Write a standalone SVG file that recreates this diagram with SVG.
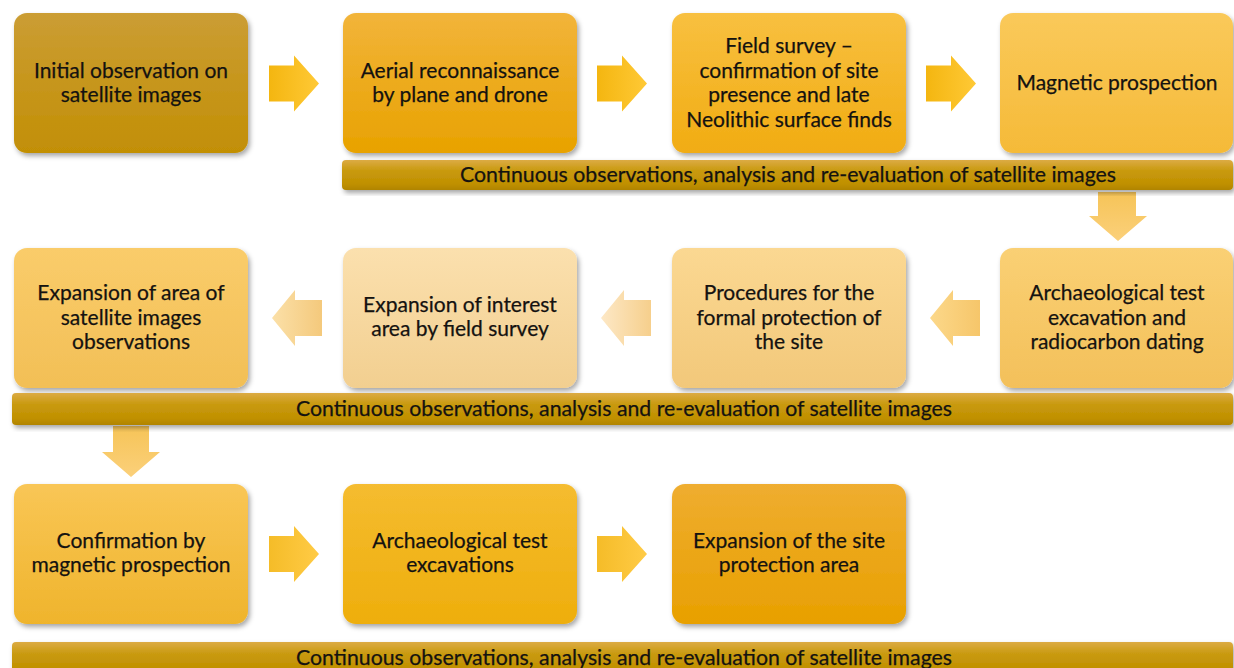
<svg xmlns="http://www.w3.org/2000/svg" width="1234" height="668" viewBox="0 0 1234 668">
<style>
.t{font-family:Lato,"Open Sans","Liberation Sans",sans-serif;font-size:21px;fill:#141210;stroke:#141210;stroke-width:0.25;text-anchor:middle}
.box{filter:url(#sh)}
</style>
<defs>
<filter id="sh" x="-10%" y="-10%" width="125%" height="130%">
<feDropShadow dx="2" dy="3" stdDeviation="2.5" flood-color="#000" flood-opacity="0.35"/>
</filter>
<linearGradient id="g1" x1="0" y1="0" x2="0" y2="1"><stop offset="0" stop-color="#cb9d34"/><stop offset="1" stop-color="#c28f05"/></linearGradient>
<linearGradient id="g2" x1="0" y1="0" x2="0" y2="1"><stop offset="0" stop-color="#f2b43a"/><stop offset="1" stop-color="#e8a200"/></linearGradient>
<linearGradient id="g3" x1="0" y1="0" x2="0" y2="1"><stop offset="0" stop-color="#f8c040"/><stop offset="1" stop-color="#f1ac12"/></linearGradient>
<linearGradient id="g4" x1="0" y1="0" x2="0" y2="1"><stop offset="0" stop-color="#fac95a"/><stop offset="1" stop-color="#f5ba38"/></linearGradient>
<linearGradient id="g5" x1="0" y1="0" x2="0" y2="1"><stop offset="0" stop-color="#fad074"/><stop offset="1" stop-color="#f3c05a"/></linearGradient>
<linearGradient id="g6" x1="0" y1="0" x2="0" y2="1"><stop offset="0" stop-color="#fbd892"/><stop offset="1" stop-color="#f2c87a"/></linearGradient>
<linearGradient id="g7" x1="0" y1="0" x2="0" y2="1"><stop offset="0" stop-color="#fbe0ae"/><stop offset="1" stop-color="#f2cf90"/></linearGradient>
<linearGradient id="g8" x1="0" y1="0" x2="0" y2="1"><stop offset="0" stop-color="#facc6a"/><stop offset="1" stop-color="#f2bf56"/></linearGradient>
<linearGradient id="g9" x1="0" y1="0" x2="0" y2="1"><stop offset="0" stop-color="#f9c656"/><stop offset="1" stop-color="#efb42c"/></linearGradient>
<linearGradient id="g10" x1="0" y1="0" x2="0" y2="1"><stop offset="0" stop-color="#f5bc30"/><stop offset="1" stop-color="#eeae0c"/></linearGradient>
<linearGradient id="g11" x1="0" y1="0" x2="0" y2="1"><stop offset="0" stop-color="#efad30"/><stop offset="1" stop-color="#e8a000"/></linearGradient>
<linearGradient id="gb" x1="0" y1="0" x2="0" y2="1"><stop offset="0" stop-color="#dcab44"/><stop offset="0.35" stop-color="#c99a10"/><stop offset="0.8" stop-color="#c09000"/><stop offset="1" stop-color="#b08400"/></linearGradient>
<linearGradient id="ar" x1="0" y1="0" x2="1" y2="0"><stop offset="0" stop-color="#f4b610"/><stop offset="1" stop-color="#ffc936"/></linearGradient>
<linearGradient id="ar3" x1="0" y1="0" x2="1" y2="0"><stop offset="0" stop-color="#f5bc28"/><stop offset="1" stop-color="#ffcb46"/></linearGradient>
<linearGradient id="al1" x1="0" y1="0" x2="1" y2="0"><stop offset="0" stop-color="#fcd88a"/><stop offset="1" stop-color="#f6c66a"/></linearGradient>
<linearGradient id="al2" x1="0" y1="0" x2="1" y2="0"><stop offset="0" stop-color="#fde8c6"/><stop offset="1" stop-color="#f6cf8c"/></linearGradient>
<linearGradient id="al3" x1="0" y1="0" x2="1" y2="0"><stop offset="0" stop-color="#fbe0a8"/><stop offset="1" stop-color="#f4c97c"/></linearGradient>
<linearGradient id="ad" x1="0" y1="0" x2="0" y2="1"><stop offset="0" stop-color="#f6c458"/><stop offset="1" stop-color="#fbd07a"/></linearGradient>
</defs>
<rect width="1234" height="668" fill="#ffffff"/>

<g id="connectors">
<path id="a1" fill="url(#ar)" d="M269,65.5 h25 v-10 l25,28 l-25,28 v-10 h-25 z"/>
<path id="a2" fill="url(#ar)" d="M597,65.5 h25 v-10 l25,28 l-25,28 v-10 h-25 z"/>
<path id="a3" fill="url(#ar)" d="M926,65.5 h25 v-10 l25,28 l-25,28 v-10 h-25 z"/>
<path id="a4" fill="url(#ad)" d="M1098,192 h38 v24 h11 l-29,25 l-29,-25 h9 z"/>
<path id="a5" fill="url(#al1)" d="M930,318 l23,-28 v10 h27 v36 h-27 v10 z"/>
<path id="a6" fill="url(#al2)" d="M601,318 l23,-28 v10 h27 v36 h-27 v10 z"/>
<path id="a7" fill="url(#al3)" d="M272,318 l23,-28 v10 h27 v36 h-27 v10 z"/>
<path id="a8" fill="url(#ad)" d="M113,426 h36 v26 h11 l-29,25 l-29,-25 h11 z"/>
<path id="a9" fill="url(#ar3)" d="M269,536 h25 v-10 l25,28 l-25,28 v-10 h-25 z"/>
<path id="a10" fill="url(#ar3)" d="M597,536 h25 v-10 l25,28 l-25,28 v-10 h-25 z"/>
</g>

<g id="n1"><rect class="box" x="14" y="13" width="234" height="140" rx="13" fill="url(#g1)"/>
<text class="t" x="131" y="78">Initial observation on</text><text class="t" x="131" y="102">satellite images</text></g>
<g id="n2"><rect class="box" x="343" y="13" width="234" height="140" rx="13" fill="url(#g2)"/>
<text class="t" x="460" y="78">Aerial reconnaissance</text><text class="t" x="460" y="102">by plane and drone</text></g>
<g id="n3"><rect class="box" x="672" y="13" width="234" height="140" rx="13" fill="url(#g3)"/>
<text class="t" x="789" y="53">Field survey –</text><text class="t" x="789" y="77.5">confirmation of site</text><text class="t" x="789" y="102">presence and late</text><text class="t" x="789" y="126.5">Neolithic surface finds</text></g>
<g id="n4"><rect class="box" x="1000" y="13" width="233" height="140" rx="13" fill="url(#g4)"/>
<text class="t" x="1117" y="90">Magnetic prospection</text></g>

<g id="bar1"><rect class="box" x="342" y="160" width="891" height="30" rx="4" fill="url(#gb)"/>
<text class="t" x="788" y="182" textLength="656" lengthAdjust="spacingAndGlyphs">Continuous observations, analysis and re-evaluation of satellite images</text></g>

<g id="n5"><rect class="box" x="1000" y="248" width="233" height="140" rx="13" fill="url(#g5)"/>
<text class="t" x="1117" y="300">Archaeological test</text><text class="t" x="1117" y="324.5">excavation and</text><text class="t" x="1117" y="349">radiocarbon dating</text></g>
<g id="n6"><rect class="box" x="672" y="248" width="234" height="140" rx="13" fill="url(#g6)"/>
<text class="t" x="789" y="300">Procedures for the</text><text class="t" x="789" y="324.5">formal protection of</text><text class="t" x="789" y="349">the site</text></g>
<g id="n7"><rect class="box" x="343" y="248" width="234" height="140" rx="13" fill="url(#g7)"/>
<text class="t" x="460" y="312">Expansion of interest</text><text class="t" x="460" y="336">area by field survey</text></g>
<g id="n8"><rect class="box" x="14" y="248" width="234" height="140" rx="13" fill="url(#g8)"/>
<text class="t" x="131" y="300">Expansion of area of</text><text class="t" x="131" y="324.5">satellite images</text><text class="t" x="131" y="349">observations</text></g>

<g id="bar2"><rect class="box" x="12" y="393" width="1221" height="32" rx="4" fill="url(#gb)"/>
<text class="t" x="624" y="416" textLength="656" lengthAdjust="spacingAndGlyphs">Continuous observations, analysis and re-evaluation of satellite images</text></g>

<g id="n9"><rect class="box" x="14" y="484" width="234" height="140" rx="13" fill="url(#g9)"/>
<text class="t" x="131" y="548">Confirmation by</text><text class="t" x="131" y="572">magnetic prospection</text></g>
<g id="n10"><rect class="box" x="343" y="484" width="234" height="140" rx="13" fill="url(#g10)"/>
<text class="t" x="460" y="548">Archaeological test</text><text class="t" x="460" y="572">excavations</text></g>
<g id="n11"><rect class="box" x="672" y="484" width="234" height="140" rx="13" fill="url(#g11)"/>
<text class="t" x="789" y="548">Expansion of the site</text><text class="t" x="789" y="572">protection area</text></g>

<g id="bar3"><rect class="box" x="12" y="642" width="1221" height="34" rx="4" fill="url(#gb)"/>
<text class="t" x="624" y="665" textLength="656" lengthAdjust="spacingAndGlyphs">Continuous observations, analysis and re-evaluation of satellite images</text></g>
</svg>
